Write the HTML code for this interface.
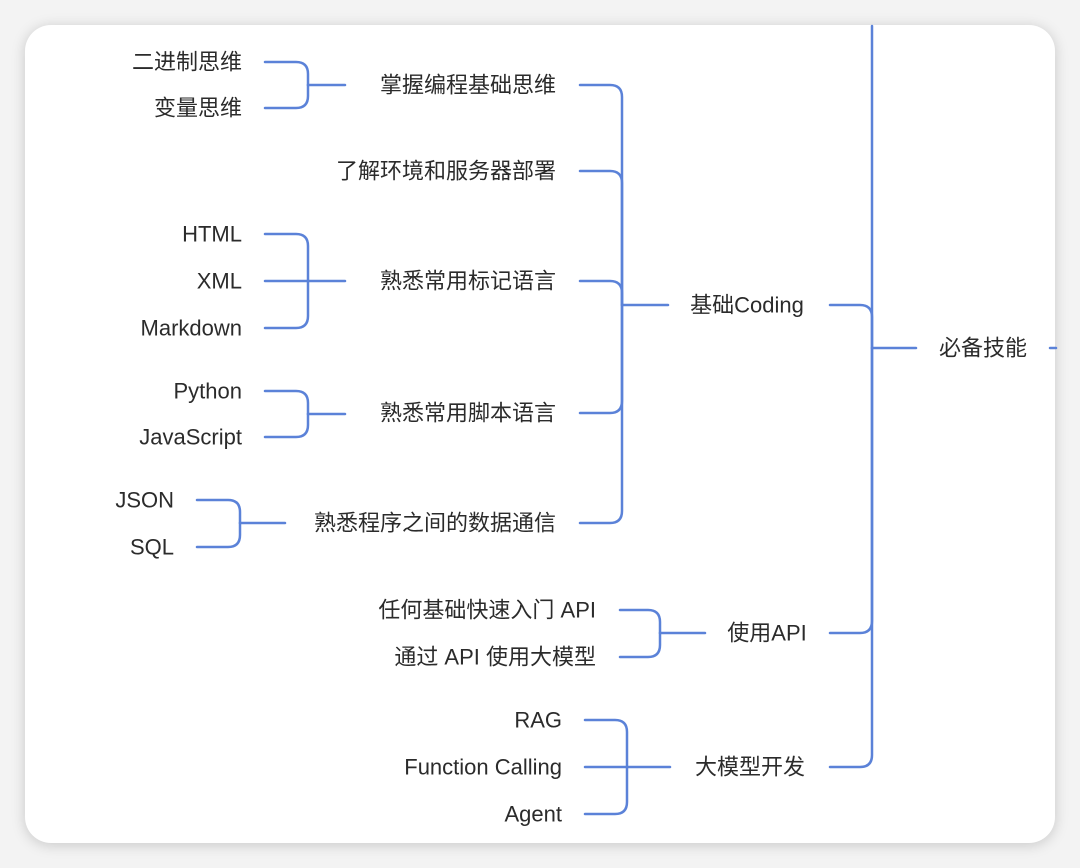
<!DOCTYPE html>
<html><head><meta charset="utf-8"><style>
html,body{margin:0;padding:0;background:#f3f3f3;width:1080px;height:868px;overflow:hidden}
.card{position:absolute;left:25px;top:25px;width:1030px;height:818px;background:#fff;border-radius:26px;box-shadow:0 2px 14px rgba(0,0,0,0.18)}
svg{position:absolute;left:0;top:0}
text{font-family:"Liberation Sans","Noto Sans CJK SC",sans-serif;font-size:22px;fill:#2b2b2b;dominant-baseline:central}
</style></head><body>
<div class="card"></div>
<svg id="s" width="1080" height="868" viewBox="0 0 1080 868"></svg>
<script>
var s=document.getElementById('s'),h='';
function br(vx,kids,py,px1){
  var r=12;
  kids.forEach(function(k){
    var y=k[0],x0=k[1];
    if(Math.abs(y-py)<1){h+='<path d="M'+x0+' '+y+' H'+vx+'"/>';return;}
    var sg=py>y?1:-1;
    h+='<path d="M'+x0+' '+y+' H'+(vx-r)+' Q'+vx+' '+y+' '+vx+' '+(y+sg*r)+' V'+py+'"/>';
  });
  h+='<path d="M'+vx+' '+py+' H'+px1+'"/>';
}
br(308,[[62,265],[108,265]],85,345);
br(308,[[234,265],[281,265],[328,265]],281,345);
br(308,[[391,265],[437,265]],414,345);
br(240,[[500,197],[547,197]],523,285);
br(622,[[85,580],[171,580],[281,580],[413,580],[523,580]],305,668);
br(660,[[610,620],[657,620]],633,705);
br(627,[[720,585],[767,585],[814,585]],767,670);
br(872,[[305,830],[633,830],[767,830]],348,916);
h+='<path d="M872 26 V348"/>';
h+='<path d="M1050 348 H1056"/>';
var g='<g fill="none" stroke="#5b82d8" stroke-width="2.5" stroke-linecap="round">'+h+'</g>';
function t(x,y,str,a){g+='<text x="'+x+'" y="'+y+'" text-anchor="'+(a||'end')+'">'+str+'</text>';}
t(242,62,'二进制思维');t(242,108,'变量思维');
t(242,234,'HTML');t(242,281,'XML');t(242,328,'Markdown');
t(242,391,'Python');t(242,437,'JavaScript');
t(174,500,'JSON');t(174,547,'SQL');
t(556,85,'掌握编程基础思维');t(556,171,'了解环境和服务器部署');t(556,281,'熟悉常用标记语言');
t(556,413,'熟悉常用脚本语言');t(556,523,'熟悉程序之间的数据通信');
t(596,610,'任何基础快速入门 API');t(596,657,'通过 API 使用大模型');
t(562,720,'RAG');t(562,767,'Function Calling');t(562,814,'Agent');
t(747,305,'基础Coding','middle');t(767,633,'使用API','middle');t(750,767,'大模型开发','middle');
t(983,348,'必备技能','middle');
s.innerHTML=g;
</script>
</body></html>
